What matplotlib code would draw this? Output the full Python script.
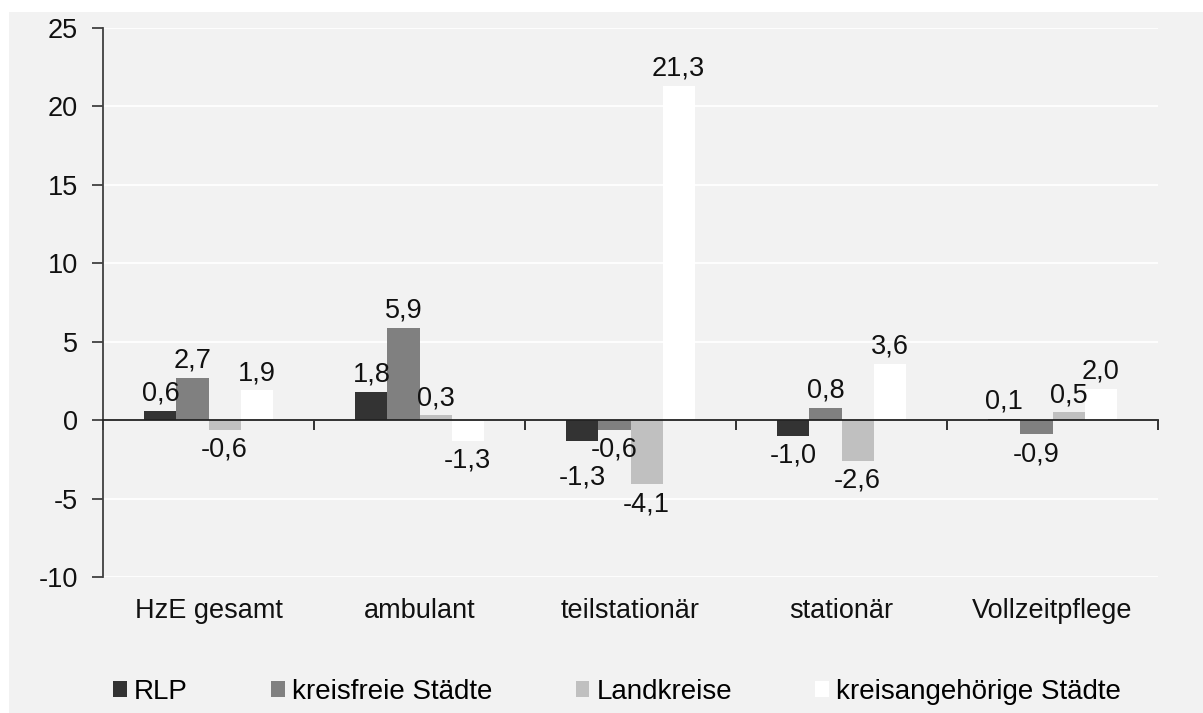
import matplotlib
matplotlib.use("Agg")
import matplotlib.pyplot as plt
import numpy as np
from matplotlib.patches import Rectangle

categories = ["HzE gesamt", "ambulant", "teilstationär", "stationär", "Vollzeitpflege"]
series_names = ["RLP", "kreisfreie Städte", "Landkreise", "kreisangehörige Städte"]
rlp = [0.6, 1.8, -1.3, -1.0, 0.1]
kreisfrei = [2.7, 5.9, -0.6, 0.8, -0.9]
landkreise = [-0.6, 0.3, -4.1, -2.6, 0.5]
kreisang = [1.9, -1.3, 21.3, 3.6, 2.0]
y_ticks = [-10, -5, 0, 5, 10, 15, 20, 25]

colors = ["#333333", "#808080", "#c0c0c0", "#ffffff"]
bg = "#f2f2f2"

plt.rcParams['font.family'] = ['Liberation Sans', 'DejaVu Sans']
FS = 19.5
FSL = 20

fig = plt.figure(figsize=(12.03, 7.13), dpi=100)
fig.patch.set_facecolor("white")
fig.patches.append(Rectangle((9/1203, 0), 1 - 9/1203, 1 - 12/713,
                             transform=fig.transFigure, facecolor=bg,
                             edgecolor="none", zorder=-10))

ax = fig.add_axes([103/1203, 1 - 577/713, (1158-103)/1203, (577-28)/713])
ax.set_facecolor(bg)

x = np.arange(len(categories))
w = 0.152
all_series = [rlp, kreisfrei, landkreise, kreisang]
labels_by_cat = {i: [] for i in range(len(categories))}
for k, (vals, name, c) in enumerate(zip(all_series, series_names, colors)):
    pos = x + (k - 1.5) * w
    ax.bar(pos, vals, width=w, color=c, label=name, zorder=3, linewidth=0)
    for i, (p, v) in enumerate(zip(pos, vals)):
        txt = f"{v:.1f}".replace(".", ",")
        if v >= 0:
            a = ax.annotate(txt, (p, v), xytext=(0, 3), textcoords="offset points",
                            ha="center", va="bottom", fontsize=FS, color="#111111", zorder=5)
        else:
            a = ax.annotate(txt, (p, v), xytext=(0, -5), textcoords="offset points",
                            ha="center", va="top", fontsize=FS, color="#111111", zorder=5)
        labels_by_cat[i].append((a, v))

ax.set_xlim(-0.5, len(categories) - 0.5)
ax.set_ylim(-10, 25)
ax.set_yticks(y_ticks)
ax.set_yticklabels([str(t) for t in y_ticks], fontsize=FS, color="#111111")
ax.yaxis.grid(True, color="white", linewidth=1.3, zorder=0)
ax.set_axisbelow(True)

for s in ["top", "right"]:
    ax.spines[s].set_visible(False)
ax.spines["left"].set_color("#404040")
ax.spines["left"].set_linewidth(1.3)
ax.spines["bottom"].set_position(("data", 0))
ax.spines["bottom"].set_color("#222222")
ax.spines["bottom"].set_linewidth(1.3)
ax.spines["bottom"].set_zorder(4)

ax.set_xticks(np.arange(-0.5, len(categories), 1.0))
ax.set_xticklabels([])
ax.tick_params(axis="x", direction="out", length=7, width=1.3, color="#222222")
ax.tick_params(axis="y", direction="out", length=8, width=1.3, color="#404040", pad=10)

sec = ax.secondary_xaxis(0)
sec.set_xticks(x)
sec.set_xticklabels(categories, fontsize=FS, color="#111111")
sec.tick_params(length=0, pad=15)
sec.spines["bottom"].set_visible(False)

handles, labels = ax.get_legend_handles_labels()
fig.legend(handles, labels, loc="center", bbox_to_anchor=(617/1203, 1 - 692/713),
           ncol=4, frameon=False, fontsize=FSL, handlelength=0.5, handleheight=0.5,
           handletextpad=0.25, columnspacing=3.0)

# push overlapping negative labels downward (left label moves down)
fig.canvas.draw()
renderer = fig.canvas.get_renderer()
for i, items in labels_by_cat.items():
    for j in range(len(items) - 1):
        a1, v1 = items[j]
        a2, v2 = items[j + 1]
        if v1 < 0 and v2 < 0:
            b1 = a1.get_window_extent(renderer)
            b2 = a2.get_window_extent(renderer)
            if b1.overlaps(b2):
                shift = (b1.y1 - b2.y0) + 2 if b1.y1 > b2.y0 else 0
                dx, dy = a1.xyann
                a1.xyann = (dx, dy - shift * 72 / fig.dpi)

fig.savefig("out.png", dpi=100, facecolor=fig.get_facecolor())
